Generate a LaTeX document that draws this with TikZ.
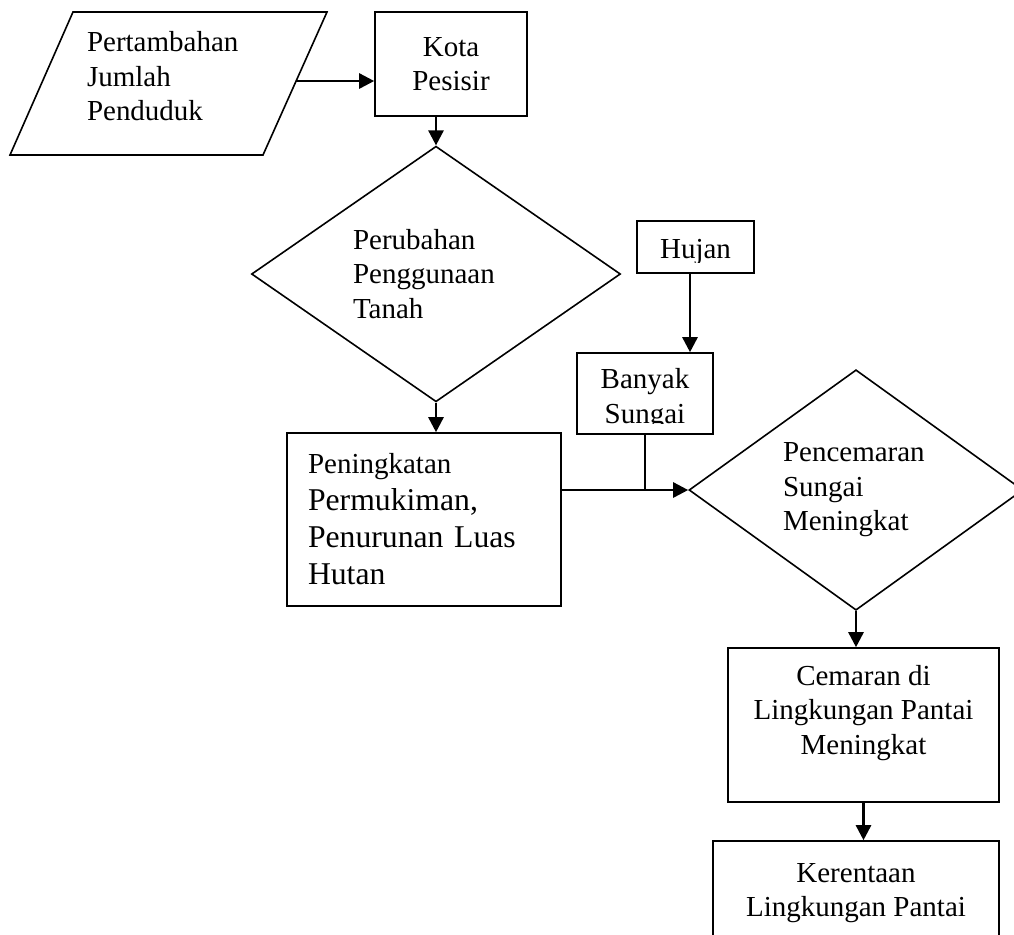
\documentclass[tikz,border=0pt]{standalone}
\usepackage{fontspec}
\setmainfont{Liberation Serif}
\usetikzlibrary{shapes.geometric,arrows.meta}

\begin{document}
\begin{tikzpicture}[x=0.5pt,y=-0.5pt]
\tikzset{every node/.style={inner sep=0pt}}
\tikzset{rect/.style={draw,line width=0.8pt,rectangle}}
\tikzset{choice/.style={draw,line width=0.8pt,diamond}}
\tikzset{flow/.style={line width=1.3pt,-{Triangle[length=7.5pt,width=7.5pt]}}}
\tikzset{cutbox/.style 2 args={path picture={
  \clip (path picture bounding box.north west) rectangle ([yshift=5.5pt]path picture bounding box.south east);
  \node[align=center] at ([yshift=#2]path picture bounding box.center) {#1};}}}

\fontsize{14.5}{17.3}\selectfont

\useasboundingbox (0,0) rectangle (1014,934);

\draw[line width=0.8pt] (73,12) -- (327,12) -- (263,155) -- (10,155) -- cycle;
\node[text width=81.5pt,align=left] (penduduk) at (168.5,83.5)
  {Pertambahan\\Jumlah\\Penduduk\rule[-7.5pt]{0pt}{0pt}};
\coordinate (tepi) at (296,81);
\node[rect,minimum width=76pt,minimum height=52pt,align=center] (kota) at (451,64) {Kota\\Pesisir};
\node[choice,minimum width=184.5pt,minimum height=121pt,text width=83pt,align=left] (guna) at (436,274)
  {Perubahan\\Penggunaan\\Tanah};
\node[rect,minimum width=58.5pt,minimum height=26pt,cutbox={Hujan}{-2.25pt}] (hujan) at (695.5,247) {};
\node[rect,minimum width=68pt,minimum height=40.5pt,cutbox={Banyak\\Sungai}{-2.75pt}] (sungai) at (645,393.5) {};
\node[rect,minimum width=137pt,minimum height=86.5pt,text width=116pt,align=left,
  font=\fontsize{15.85}{18.5}\selectfont] (mukim) at (424,519.5)
  {{\fontsize{14.5}{18.5}\selectfont Peningkatan}\\Permukiman,\\Penurunan Luas\\Hutan};
\node[choice,minimum width=167pt,minimum height=118pt,text width=73pt,align=left] (cemar) at (856,490)
  {Pencemaran\\Sungai\\Meningkat};
\node[rect,minimum width=135.5pt,minimum height=77pt,align=center] (pantai) at (863.5,725)
  {Cemaran di\\Lingkungan Pantai\\Meningkat\\[-2pt]\mbox{}};
\node[rect,minimum width=143pt,minimum height=52pt,align=center] (rentan) at (856,893)
  {Kerentaan\\Lingkungan Pantai};

\draw[flow] (tepi) -- (tepi -| kota.west);
\draw[flow] (guna.north |- kota.south) -- (guna.north);
\draw[flow] (guna.south) -- (guna.south |- mukim.north);
\draw[flow] ([xshift=-2.75pt]hujan.south) -- ([xshift=-2.75pt]hujan.south |- sungai.north);
\draw[line width=0.8pt] (sungai.south) -- (sungai.south |- cemar.west);
\draw[flow] (mukim.east |- cemar.west) -- (cemar.west);
\draw[flow] (cemar.south) -- (cemar.south |- pantai.north);
\draw[flow] (pantai.south) -- (pantai.south |- rentan.north);

\end{tikzpicture}
\end{document}
